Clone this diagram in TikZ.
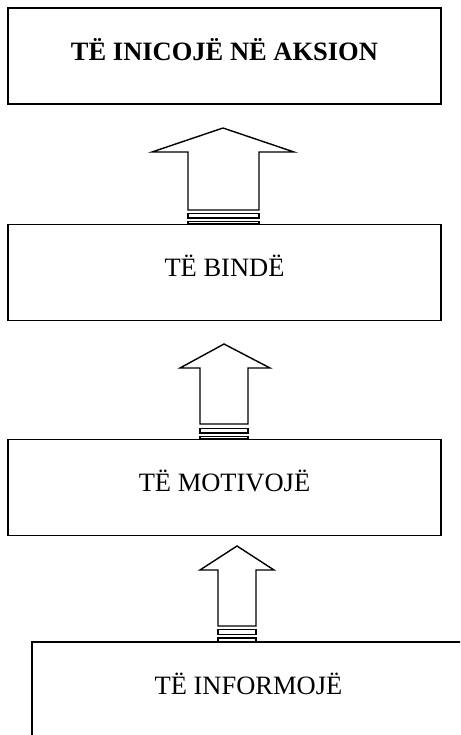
\documentclass[tikz,border=0pt]{standalone}
\usepackage{fontspec}
\setmainfont{Liberation Serif}
\usepackage{tikz}
\usetikzlibrary{calc}

\begin{document}
\begin{tikzpicture}[
    x = 1pt, y = -1pt,
    line width = 1.6pt,
    stage/.style = {rectangle,
      draw,
      font = \fontsize{26.5}{30}\selectfont,
      text height = 18pt, text depth = 9.5pt,
      minimum width = 433pt,
      minimum height = 96pt},
    uparrow/.style = {line width = 1.4pt, line join = miter}
    ]
    \useasboundingbox (0, 0) rectangle (460, 735);
    \clip (0, 0) rectangle (460, 735);

    \node at (224.5, 56) [stage, name = aksion] {\bfseries TË INICOJË NË AKSION};
    \node at (224.5, 272.5) [stage, name = bind] {TË BINDË};
    \node at (224.5, 487.5) [stage, name = motivoj] {TË MOTIVOJË};
    \node at (248.5, 690) [stage, name = informoj] {TË INFORMOJË};

    % bind -> aksion
    \draw [uparrow] (223, 128) -- (294, 152) -- (259, 152) -- (259, 210)
      -- (188, 210) -- (188, 152) -- (152, 152) -- cycle;
    \draw [uparrow] (188, 213.5) rectangle (259, 218);
    \draw [uparrow] (188, 221.5) rectangle ($(bind.north) + (34.5, 0)$);

    % motivoj -> bind
    \draw [uparrow] (224, 344) -- (270, 368) -- (248, 368) -- (248, 424)
      -- (200, 424) -- (200, 368) -- (180, 368) -- cycle;
    \draw [uparrow] (200, 428.5) rectangle (248, 433);
    \draw [uparrow] (200, 436.5) rectangle ($(motivoj.north) + (23.5, 0)$);

    % informoj -> motivoj
    \draw [uparrow] (237, 546) -- (274, 570) -- (256, 570) -- (256, 626)
      -- (218, 626) -- (218, 570) -- (200, 570) -- cycle;
    \draw [uparrow] (218, 629.5) rectangle (256, 634.5);
    \draw [uparrow] (218, 638) rectangle ($(informoj.north) + (7.5, 0)$);
  \end{tikzpicture}
\end{document}
